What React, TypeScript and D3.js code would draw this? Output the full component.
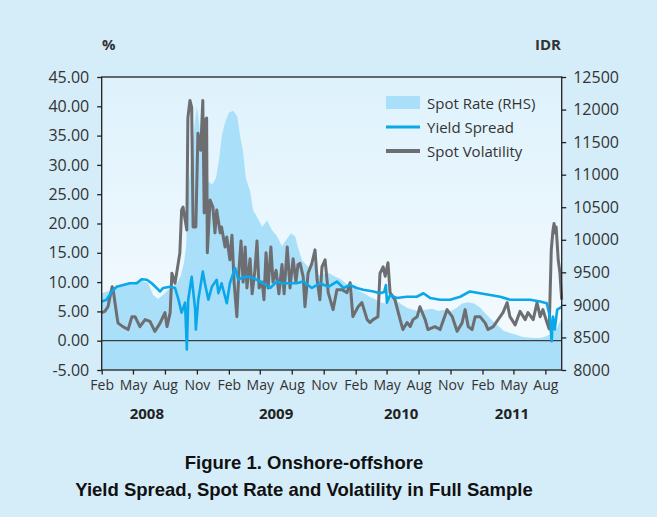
import { useEffect, useRef } from 'react';
import * as d3 from 'd3';

// IDR spot rate (right axis)
const spotRate: [string, number][] = [
  ['2008-02-01', 9180], ['2008-02-25', 9220], ['2008-03-25', 9300], ['2008-04-22', 9330],
  ['2008-05-21', 9380], ['2008-06-13', 9340], ['2008-06-28', 9150], ['2008-07-12', 9090],
  ['2008-07-26', 9150], ['2008-08-16', 9260], ['2008-09-05', 9330], ['2008-09-16', 9450],
  ['2008-09-25', 9650], ['2008-10-01', 9900], ['2008-10-06', 10700], ['2008-10-15', 11200],
  ['2008-10-24', 11700], ['2008-11-01', 12050], ['2008-11-07', 11800], ['2008-11-16', 11300],
  ['2008-11-24', 11100], ['2008-12-03', 10900], ['2008-12-15', 10850], ['2008-12-26', 10950],
  ['2009-01-04', 11250], ['2009-01-12', 11600], ['2009-01-21', 11800], ['2009-02-01', 11950],
  ['2009-02-13', 11980], ['2009-02-25', 11900], ['2009-03-05', 11600], ['2009-03-14', 11350],
  ['2009-03-22', 10950], ['2009-04-03', 10750], ['2009-04-12', 10450], ['2009-04-23', 10350],
  ['2009-05-08', 10200], ['2009-05-22', 10300], ['2009-06-05', 10150], ['2009-06-20', 10050],
  ['2009-07-04', 9900], ['2009-07-16', 10000], ['2009-07-30', 10100], ['2009-08-11', 10050],
  ['2009-08-19', 9880], ['2009-08-31', 9680], ['2009-09-11', 9620], ['2009-09-23', 9560],
  ['2009-10-04', 9640], ['2009-10-19', 9450], ['2009-11-02', 9480], ['2009-11-16', 9490],
  ['2009-12-01', 9440], ['2009-12-18', 9400], ['2010-01-04', 9330], ['2010-01-22', 9280],
  ['2010-02-08', 9220], ['2010-02-25', 9180], ['2010-03-14', 9120], ['2010-04-01', 9080],
  ['2010-04-18', 9030], ['2010-05-05', 9020], ['2010-05-14', 9150], ['2010-05-28', 9070],
  ['2010-06-15', 9000], ['2010-07-02', 8950], ['2010-07-19', 8920], ['2010-08-05', 8900],
  ['2010-08-23', 8930], ['2010-09-09', 8940], ['2010-09-26', 8910], ['2010-10-14', 8920],
  ['2010-10-31', 8900], ['2010-11-17', 8950], ['2010-12-04', 9020], ['2010-12-22', 9040],
  ['2011-01-08', 9020], ['2011-01-25', 8960], ['2011-02-11', 8860], ['2011-03-01', 8760],
  ['2011-03-18', 8680], ['2011-04-04', 8600], ['2011-04-21', 8570], ['2011-05-09', 8540],
  ['2011-05-26', 8510], ['2011-06-12', 8500], ['2011-06-30', 8490], ['2011-07-17', 8490],
  ['2011-08-03', 8520], ['2011-08-20', 8560], ['2011-09-04', 8650], ['2011-09-15', 8780],
  ['2011-09-17', 8800],
];

// onshore-offshore yield spread, % (left axis)
const yieldSpread: [string, number][] = [
  ['2008-02-01', 6.7], ['2008-02-15', 7.0], ['2008-03-01', 8.4], ['2008-03-15', 9.2],
  ['2008-04-03', 9.5], ['2008-04-22', 9.8], ['2008-05-12', 9.8], ['2008-05-26', 10.5],
  ['2008-06-10', 10.4], ['2008-06-24', 9.8], ['2008-07-08', 9.0], ['2008-07-18', 8.4],
  ['2008-07-27', 9.0], ['2008-08-16', 9.2], ['2008-08-30', 9.0], ['2008-09-09', 7.0],
  ['2008-09-18', 4.8], ['2008-09-28', 6.5], ['2008-10-03', -1.5], ['2008-10-07', 7.0],
  ['2008-10-17', 10.9], ['2008-10-27', 5.3], ['2008-10-29', 1.9], ['2008-11-05', 7.0],
  ['2008-11-18', 11.8], ['2008-11-24', 9.8], ['2008-12-04', 7.0], ['2008-12-14', 9.2],
  ['2008-12-28', 10.4], ['2009-01-02', 8.1], ['2009-01-11', 9.8], ['2009-01-26', 6.4],
  ['2009-02-04', 9.8], ['2009-02-19', 12.4], ['2009-02-28', 10.4], ['2009-03-15', 10.9],
  ['2009-04-03', 10.9], ['2009-04-22', 10.4], ['2009-05-11', 9.8], ['2009-05-31', 9.0],
  ['2009-06-19', 10.1], ['2009-07-03', 9.8], ['2009-07-27', 9.8], ['2009-08-15', 9.8],
  ['2009-09-03', 10.1], ['2009-09-28', 9.0], ['2009-10-21', 9.8], ['2009-11-14', 9.2],
  ['2009-12-09', 10.1], ['2009-12-28', 9.0], ['2010-01-16', 9.5], ['2010-02-04', 9.0],
  ['2010-02-23', 8.7], ['2010-03-24', 8.4], ['2010-04-12', 8.1], ['2010-04-24', 8.3],
  ['2010-04-29', 9.5], ['2010-05-02', 6.5], ['2010-05-11', 7.8], ['2010-05-30', 7.3],
  ['2010-06-28', 7.5], ['2010-07-27', 7.5], ['2010-08-15', 8.1], ['2010-09-03', 7.3],
  ['2010-10-02', 7.0], ['2010-10-31', 7.0], ['2010-11-29', 7.5], ['2010-12-27', 8.4],
  ['2011-01-25', 8.1], ['2011-02-23', 7.8], ['2011-03-24', 7.5], ['2011-04-21', 7.0],
  ['2011-05-20', 7.0], ['2011-06-18', 7.0], ['2011-07-17', 6.7], ['2011-08-05', 6.4],
  ['2011-08-14', 4.1], ['2011-08-19', -0.1], ['2011-08-23', 4.1], ['2011-08-28', 1.9],
  ['2011-09-04', 5.3], ['2011-09-12', 5.6], ['2011-09-17', 5.8],
];

// spot volatility, % (left axis)
const spotVolatility: [string, number][] = [
  ['2008-02-01', 4.8], ['2008-02-10', 5.0], ['2008-02-19', 5.8], ['2008-03-02', 9.2],
  ['2008-03-05', 8.7], ['2008-03-16', 4.1], ['2008-03-19', 3.0], ['2008-04-02', 2.4],
  ['2008-04-17', 1.9], ['2008-04-28', 4.1], ['2008-05-07', 4.1], ['2008-05-21', 2.4],
  ['2008-06-05', 3.6], ['2008-06-19', 3.3], ['2008-07-03', 1.6], ['2008-07-18', 3.0],
  ['2008-08-01', 4.8], ['2008-08-07', 2.4], ['2008-08-16', 4.8], ['2008-08-21', 11.5],
  ['2008-08-30', 9.8], ['2008-09-05', 12.0], ['2008-09-13', 15.0], ['2008-09-18', 22.3],
  ['2008-09-22', 22.8], ['2008-10-03', 18.9], ['2008-10-06', 38.0], ['2008-10-12', 41.0],
  ['2008-10-17', 39.8], ['2008-10-21', 19.4], ['2008-10-29', 19.4], ['2008-11-04', 35.4],
  ['2008-11-12', 32.5], ['2008-11-18', 41.0], ['2008-11-22', 21.8], ['2008-11-24', 37.6],
  ['2008-11-29', 38.0], ['2008-12-01', 15.0], ['2008-12-09', 24.0], ['2008-12-17', 22.8],
  ['2008-12-23', 18.4], ['2008-12-28', 22.3], ['2009-01-07', 18.4], ['2009-01-11', 19.4],
  ['2009-01-21', 16.0], ['2009-01-26', 17.7], ['2009-02-04', 13.8], ['2009-02-10', 18.0],
  ['2009-02-16', 10.0], ['2009-02-24', 4.1], ['2009-03-02', 12.0], ['2009-03-08', 17.0],
  ['2009-03-14', 10.0], ['2009-03-20', 16.0], ['2009-03-25', 9.0], ['2009-04-03', 14.0],
  ['2009-04-09', 8.0], ['2009-04-17', 12.0], ['2009-04-23', 17.0], ['2009-04-29', 9.0],
  ['2009-05-08', 10.0], ['2009-05-13', 7.0], ['2009-05-19', 15.0], ['2009-05-25', 9.0],
  ['2009-06-02', 16.0], ['2009-06-08', 10.0], ['2009-06-17', 12.0], ['2009-06-25', 8.0],
  ['2009-07-04', 13.0], ['2009-07-10', 8.0], ['2009-07-19', 16.0], ['2009-07-27', 9.0],
  ['2009-08-05', 14.0], ['2009-08-13', 10.0], ['2009-08-19', 13.0], ['2009-08-25', 13.2],
  ['2009-09-03', 10.9], ['2009-09-08', 5.8], ['2009-09-17', 11.5], ['2009-09-28', 13.2],
  ['2009-10-07', 15.5], ['2009-10-13', 10.4], ['2009-10-21', 7.0], ['2009-10-27', 12.6],
  ['2009-11-05', 13.8], ['2009-11-14', 8.2], ['2009-11-28', 5.3], ['2009-12-09', 8.7],
  ['2009-12-24', 8.7], ['2010-01-07', 8.2], ['2010-01-16', 9.9], ['2010-01-24', 4.1],
  ['2010-02-08', 5.8], ['2010-02-19', 6.5], ['2010-03-06', 3.6], ['2010-03-14', 3.1],
  ['2010-03-23', 3.6], ['2010-04-06', 4.1], ['2010-04-12', 11.5], ['2010-04-21', 12.6],
  ['2010-04-27', 11.0], ['2010-05-05', 13.3], ['2010-05-11', 8.2], ['2010-05-25', 7.0],
  ['2010-06-09', 3.6], ['2010-06-17', 1.9], ['2010-06-29', 3.1], ['2010-07-08', 2.4],
  ['2010-07-16', 3.6], ['2010-07-28', 4.1], ['2010-08-05', 5.8], ['2010-08-20', 3.6],
  ['2010-08-28', 1.9], ['2010-09-17', 2.4], ['2010-10-02', 1.9], ['2010-10-22', 5.3],
  ['2010-11-06', 4.1], ['2010-11-20', 1.6], ['2010-12-04', 3.0], ['2010-12-13', 5.3],
  ['2010-12-22', 2.4], ['2011-01-02', 1.9], ['2011-01-11', 4.1], ['2011-01-25', 4.1],
  ['2011-02-09', 3.0], ['2011-02-17', 1.9], ['2011-03-04', 2.4], ['2011-03-18', 3.6],
  ['2011-04-01', 4.8], ['2011-04-13', 6.5], ['2011-04-21', 4.1], ['2011-05-06', 2.7],
  ['2011-05-20', 5.0], ['2011-06-04', 3.6], ['2011-06-12', 4.8], ['2011-06-27', 3.6],
  ['2011-07-08', 6.5], ['2011-07-17', 4.1], ['2011-07-25', 5.3], ['2011-08-06', 3.0],
  ['2011-08-12', 2.0], ['2011-08-18', 15.5], ['2011-08-23', 18.9], ['2011-08-26', 20.0],
  ['2011-08-29', 18.4], ['2011-09-01', 19.4], ['2011-09-07', 13.8], ['2011-09-12', 11.5],
  ['2011-09-17', 7.0],
];

const leftTicks = [45, 40, 35, 30, 25, 20, 15, 10, 5, 0, -5];
const rightTicks = [12500, 12000, 11500, 11000, 10500, 10000, 9500, 9000, 8500, 8000];
const dateRange = ['2008-02-01', '2011-09-17'];
const yearLabels: [string, string][] = [
  ['2008', '2008-06-10'], ['2009', '2009-06-17'], ['2010', '2010-06-12'], ['2011', '2011-04-27'],
];
const legendLabels = ['Spot Rate (RHS)', 'Yield Spread', 'Spot Volatility'];
const titleLines = ['Figure 1. Onshore-offshore', 'Yield Spread, Spot Rate and Volatility in Full Sample'];

const W = 657;
const H = 517;
const AREA_COLOR = '#aadff9';
const BLUE = '#0aa8e8';
const GREY = '#6d6e71';
const FONT = '"Open Sans", "DejaVu Sans", sans-serif';

export default function App() {
  const svgRef = useRef<SVGSVGElement>(null);

  useEffect(() => {
    if (!svgRef.current) return;
    const svg = d3.select(svgRef.current);
    svg.selectAll('*').remove();

    const parse = d3.utcParse('%Y-%m-%d');
    const margin = { top: 77, right: 95.3, bottom: 147, left: 101.7 };
    const x0 = margin.left;
    const x1 = W - margin.right;
    const y0 = margin.top;
    const y1 = H - margin.bottom;

    const x = d3.scaleUtc().domain(dateRange.map((d) => parse(d) as Date)).range([x0, x1]);
    const yL = d3.scaleLinear().domain([-5, 45]).range([y1, y0]);
    const yR = d3.scaleLinear().domain([8000, 12500]).range([y1, y0]);

    // page + plot backgrounds
    svg.append('rect').attr('width', W).attr('height', H).attr('fill', '#d5edf9');
    const grad = svg
      .append('defs')
      .append('linearGradient')
      .attr('id', 'plotbg')
      .attr('x1', 0).attr('y1', 0).attr('x2', 0).attr('y2', 1);
    grad.append('stop').attr('offset', '0%').attr('stop-color', '#def2fc');
    grad.append('stop').attr('offset', '100%').attr('stop-color', '#f6fbfe');
    svg
      .append('rect')
      .attr('x', x0).attr('y', y0)
      .attr('width', x1 - x0).attr('height', y1 - y0)
      .attr('fill', 'url(#plotbg)');

    // spot rate area (RHS)
    const rateData = spotRate.map(([d, v]) => ({ ts: parse(d) as Date, v }));
    const area = d3
      .area<{ ts: Date; v: number }>()
      .x((d) => x(d.ts))
      .y0(y1)
      .y1((d) => yR(d.v));
    svg.append('path').datum(rateData).attr('fill', AREA_COLOR).attr('d', area);

    // zero line
    svg
      .append('line')
      .attr('x1', x0).attr('x2', x1)
      .attr('y1', yL(0)).attr('y2', yL(0))
      .attr('stroke', '#1a1a1a').attr('stroke-width', 1);

    const line = d3
      .line<{ ts: Date; v: number }>()
      .x((d) => x(d.ts))
      .y((d) => yL(d.v));

    const volData = spotVolatility.map(([d, v]) => ({ ts: parse(d) as Date, v }));
    svg
      .append('path')
      .datum(volData)
      .attr('fill', 'none')
      .attr('stroke', GREY)
      .attr('stroke-width', 3)
      .attr('stroke-linejoin', 'round')
      .attr('d', line);

    const spreadData = yieldSpread.map(([d, v]) => ({ ts: parse(d) as Date, v }));
    svg
      .append('path')
      .datum(spreadData)
      .attr('fill', 'none')
      .attr('stroke', BLUE)
      .attr('stroke-width', 2.6)
      .attr('stroke-linejoin', 'round')
      .attr('d', line);

    // frame
    svg
      .append('rect')
      .attr('x', x0).attr('y', y0)
      .attr('width', x1 - x0).attr('height', y1 - y0)
      .attr('fill', 'none')
      .attr('stroke', '#231f20')
      .attr('stroke-width', 1.3);

    const styleAxis = (g: d3.Selection<SVGGElement, unknown, null, undefined>, size: number) => {
      g.select('.domain').remove();
      g.selectAll('line').attr('stroke', '#231f20').attr('stroke-width', 1.3);
      g.selectAll('text')
        .attr('fill', '#333')
        .style('font-family', FONT)
        .style('font-size', `${size}px`);
    };

    const gL = svg
      .append('g')
      .attr('transform', `translate(${x0},0)`)
      .call(
        d3.axisLeft(yL).tickValues(leftTicks).tickFormat((d) => (d as number).toFixed(2)).tickSize(4.5).tickPadding(8)
      );
    styleAxis(gL, 16);

    const gR = svg
      .append('g')
      .attr('transform', `translate(${x1},0)`)
      .call(d3.axisRight(yR).tickValues(rightTicks).tickFormat((d) => String(d)).tickSize(4.5).tickPadding(7));
    styleAxis(gR, 16);

    const monthTicks = d3.utcMonth.range(parse('2008-02-01') as Date, parse('2011-09-01') as Date, 3);
    const gB = svg
      .append('g')
      .attr('transform', `translate(0,${y1})`)
      .call(
        d3.axisBottom(x).tickValues(monthTicks).tickFormat((d) => d3.utcFormat('%b')(d as Date)).tickSize(4.5).tickPadding(6)
      );
    styleAxis(gB, 14);

    // year labels
    svg
      .append('g')
      .selectAll('text')
      .data(yearLabels)
      .join('text')
      .attr('x', (d) => x(parse(d[1]) as Date))
      .attr('y', 419)
      .attr('text-anchor', 'middle')
      .attr('fill', '#222')
      .style('font-family', FONT)
      .style('font-weight', 700)
      .style('font-size', '15px')
      .text((d) => d[0]);

    // unit labels
    svg
      .append('text')
      .attr('x', 102).attr('y', 50)
      .attr('fill', '#333')
      .style('font-family', FONT).style('font-weight', 700).style('font-size', '15px')
      .text('%');
    svg
      .append('text')
      .attr('x', 561).attr('y', 50)
      .attr('text-anchor', 'end')
      .attr('fill', '#333')
      .style('font-family', FONT).style('font-weight', 700).style('font-size', '15px')
      .text('IDR');

    // legend
    const lg = svg.append('g').attr('transform', 'translate(386,0)');
    const rows = [109, 133, 157];
    lg.append('rect').attr('x', 0).attr('y', 96).attr('width', 34).attr('height', 13).attr('fill', AREA_COLOR);
    lg.append('line').attr('x1', 0).attr('x2', 34).attr('y1', 127).attr('y2', 127).attr('stroke', BLUE).attr('stroke-width', 3);
    lg.append('line').attr('x1', 0).attr('x2', 34).attr('y1', 151).attr('y2', 151).attr('stroke', GREY).attr('stroke-width', 4);
    lg.selectAll('text.lab')
      .data(legendLabels)
      .join('text')
      .attr('class', 'lab')
      .attr('x', 41)
      .attr('y', (_, i) => rows[i])
      .attr('fill', '#333')
      .style('font-family', FONT)
      .style('font-size', '15px')
      .text((d) => d);

    // caption
    svg
      .append('g')
      .selectAll('text')
      .data(titleLines)
      .join('text')
      .attr('x', 304)
      .attr('y', (_, i) => 469 + i * 27)
      .attr('text-anchor', 'middle')
      .attr('fill', '#111')
      .style('font-family', '"Liberation Sans", Arial, sans-serif')
      .style('font-weight', 700)
      .style('font-size', '18.5px')
      .text((d) => d);
  }, []);

  return <svg ref={svgRef} width={W} height={H} style={{ position: 'absolute', left: 0, top: 0 }} />;
}
